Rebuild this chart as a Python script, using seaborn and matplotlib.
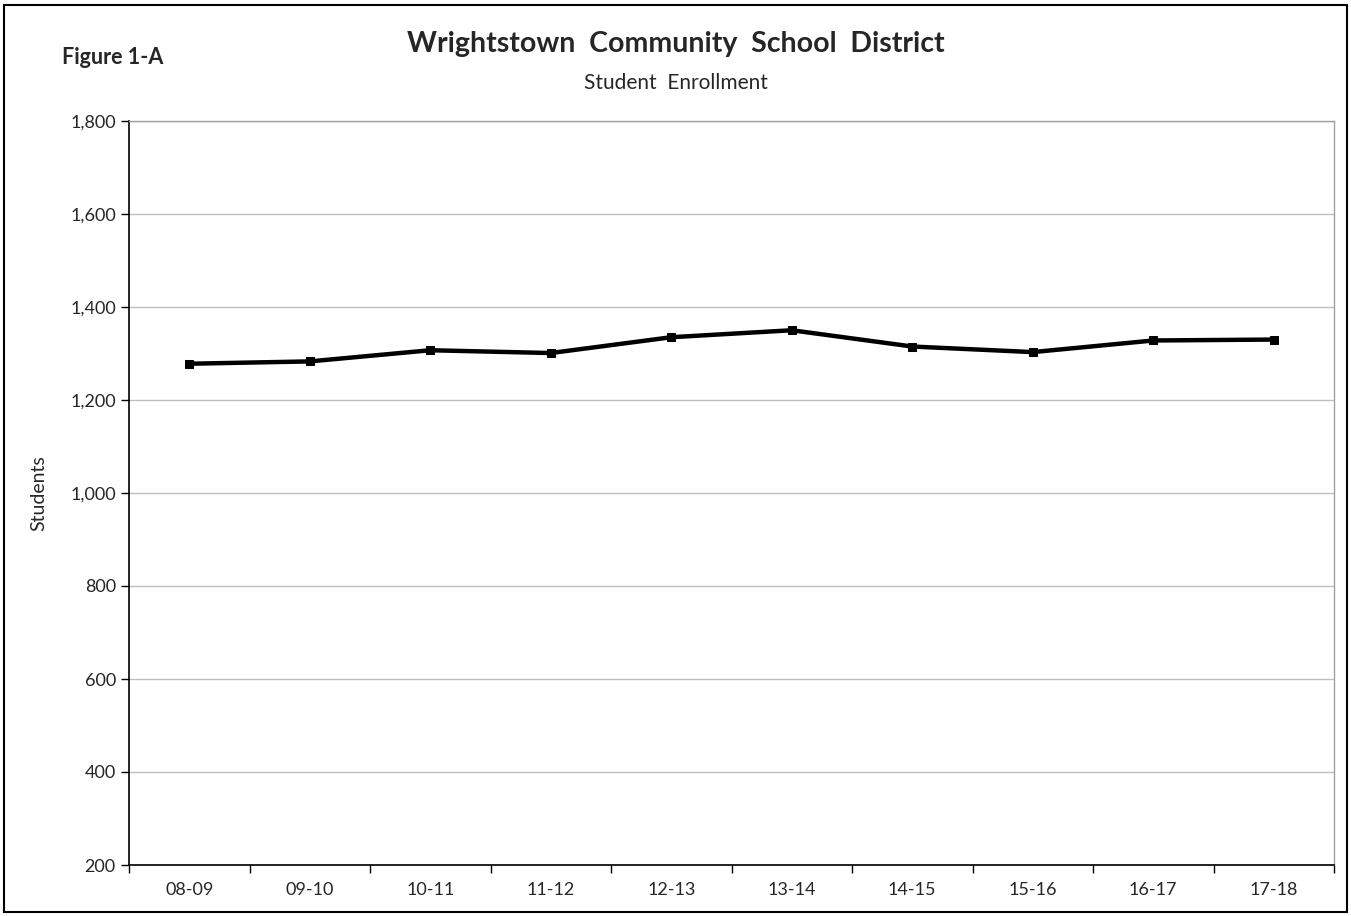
import seaborn as sns
import matplotlib.pyplot as plt
import pandas as pd
from matplotlib.patches import Rectangle
from matplotlib.ticker import FuncFormatter

years = ["08-09", "09-10", "10-11", "11-12", "12-13", "13-14", "14-15", "15-16", "16-17", "17-18"]
students = [1278, 1283, 1307, 1301, 1335, 1350, 1315, 1303, 1328, 1330]
y_ticks = [200, 400, 600, 800, 1000, 1200, 1400, 1600, 1800]

sns.set_style("white")
plt.rcParams["font.family"] = ["Lato", "DejaVu Sans"]

df = pd.DataFrame({"pos": range(len(years)), "year": years, "students": students})

fig = plt.figure(figsize=(13.51, 9.16), dpi=100)
ax = fig.add_axes([129 / 1351, 1 - 865 / 916, (1334 - 129) / 1351, (865 - 121) / 916])

sns.lineplot(data=df, x="pos", y="students", ax=ax, color="black", linewidth=3.2,
             marker="s", markersize=6, markeredgecolor="black")

ax.set_xlim(-0.5, len(years) - 0.5)
ax.set_ylim(200, 1800)
ax.set_yticks(y_ticks)
ax.yaxis.set_major_formatter(FuncFormatter(lambda v, p: f"{int(v):,}"))
ax.grid(axis="y", color="#c0c0c0", linewidth=1)

# category labels sit between the boundary ticks
ax.set_xticks([i - 0.5 for i in range(len(years) + 1)])
ax.set_xticklabels([])
ax.set_xticks(range(len(years)), minor=True)
ax.set_xticklabels(years, minor=True)
ax.tick_params(axis="x", which="major", length=6, width=1, color="black", direction="out")
ax.tick_params(axis="x", which="minor", length=0, pad=12, labelsize=13)
ax.tick_params(axis="y", length=6, width=1, color="black", direction="out", labelsize=13, left=True)
ax.tick_params(axis="x", bottom=True)

for side in ["left", "bottom"]:
    ax.spines[side].set_color("black")
    ax.spines[side].set_linewidth(1.2)
for side in ["top", "right"]:
    ax.spines[side].set_color("#a0a0a0")
    ax.spines[side].set_linewidth(1)

ax.set_xlabel("")
ax.set_ylabel("Students", fontsize=14, labelpad=16)

fig.text(676 / 1351, 1 - 44 / 916, "Wrightstown  Community  School  District",
         ha="center", va="center", fontsize=20.5, fontweight="bold")
fig.text(676 / 1351, 1 - 83 / 916, "Student  Enrollment", ha="center", va="center", fontsize=15)
fig.text(62 / 1351, 1 - 58 / 916, "Figure 1-A", ha="left", va="center", fontsize=15.5, fontweight="bold")

fig.patches.append(Rectangle((4 / 1351, 1 - 912 / 916), 1343 / 1351, 907 / 916,
                             transform=fig.transFigure, fill=False, edgecolor="black", linewidth=1.5))

fig.savefig("out.png", dpi=100)
plt.close(fig)
